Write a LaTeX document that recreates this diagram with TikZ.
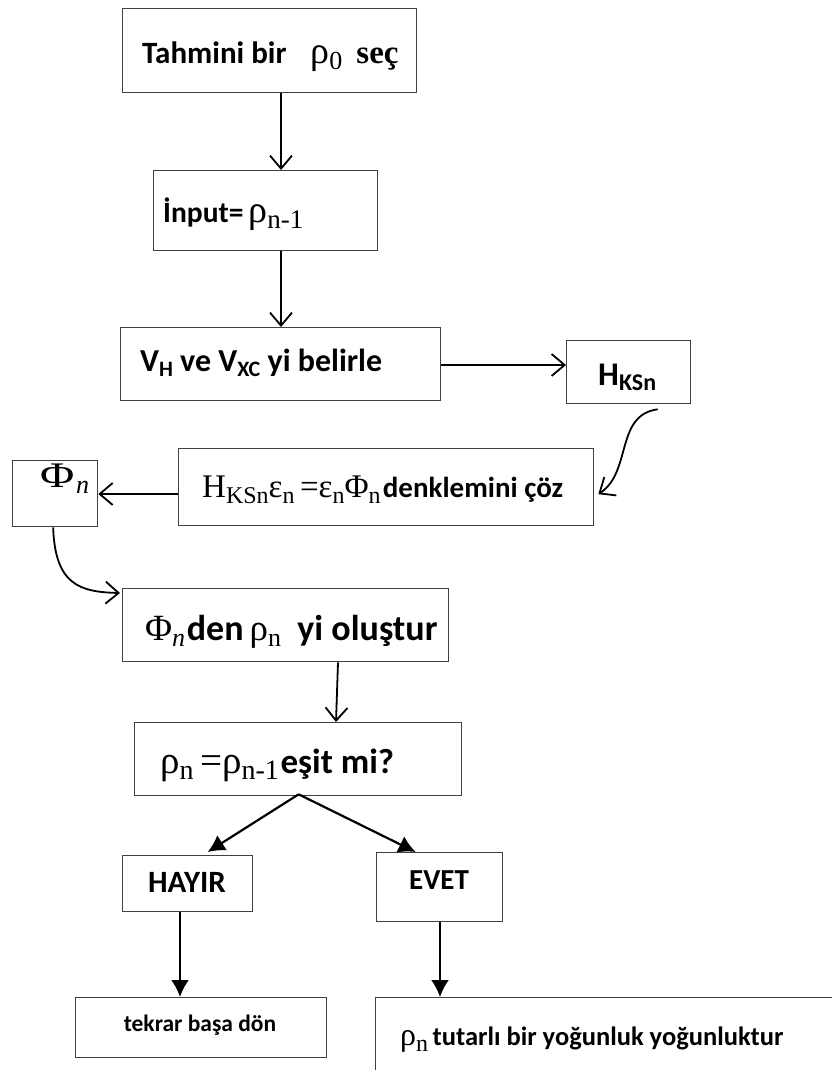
\documentclass[tikz,border=0pt]{standalone}
\usepackage{fontspec}
\setmainfont{Carlito}
\newfontfamily\tms{Liberation Serif}
\usetikzlibrary{arrows.meta,calc}
\newcommand\F[1]{\fontsize{#1}{#1}\selectfont\bfseries}
\newcommand\G[2][34]{{\fontsize{#1}{#1}\selectfont\tms\mdseries #2}}
\newcommand\gs[2][24]{\raisebox{-6pt}{\fontsize{#1}{#1}\selectfont\tms\mdseries #2}}
\newcommand\cs[2][22]{\raisebox{-5pt}{\fontsize{#1}{#1}\selectfont\bfseries #2}}
\begin{document}
\begin{tikzpicture}[x=1pt,y=-1pt,
  box/.style={draw=black!75, line width=1.3pt, anchor=north west, inner sep=0pt},
  txt/.style={inner sep=0pt, anchor=center},
  oarr/.style={line width=1.8pt, -{Straight Barb[length=13pt,width=22pt,line width=1.8pt]}},
  farr/.style={line width=2.2pt, -{Latex[length=17pt,width=18pt]}}]
\useasboundingbox (0,0) rectangle (832,1070);
\begin{scope}
\clip (0,0) rectangle (832,1070);
% boxes
\node[box, minimum width=294, minimum height=84] (b1) at (122,8) {};
\node[box, minimum width=224, minimum height=80] (b2) at (153,170) {};
\node[box, minimum width=320, minimum height=73] (b3) at (120,327) {};
\node[box, minimum width=124, minimum height=63] (hk) at (566,340) {};
\node[box, minimum width=415, minimum height=77] (b4) at (178,448) {};
\node[box, minimum width=85, minimum height=66] (phi) at (12,460) {};
\node[box, minimum width=326, minimum height=73] (b5) at (122,588) {};
\node[box, minimum width=327, minimum height=73] (b6) at (134,722) {};
\node[box, minimum width=130, minimum height=56] (hay) at (122,855) {};
\node[box, minimum width=126, minimum height=69] (evt) at (376,852) {};
\node[box, minimum width=251, minimum height=60] (tek) at (75,997) {};
\node[box, minimum width=480, minimum height=100] (fin) at (375,997) {};
% texts
\node[txt, anchor=base west] at (142,64) {\F{31}Tahmini bir\hspace{24pt}\G[38]{ρ}\gs[26]{0}\hspace{14pt}{\tms\fontsize{33}{33}\selectfont\bfseries seç}};
\node[txt, anchor=base west] at (163,222) {\F{29.5}İnput=\,\G[38]{ρ}\gs[27]{n-1}};
\node[txt, anchor=base west] at (140,371) {\F{32}V\cs{H} ve V\cs{XC} yi belirle};
\node[txt, anchor=base west] at (598,385) {\F{33}H\cs[24]{KSn}};
\node[txt, anchor=base west] at (202,497) {\G[33]{H}\gs{KSn}\G[33]{ε}\gs{n}\G[33]{\,=ε}\gs{n}\G[33]{Φ}\gs{n}\ \F{29}denklemini çöz};
\node[txt, anchor=base west] at (40,487) {\scalebox{1.3}[1]{\G[36]{Φ}}\,\gs[26]{\itshape n}};
\node[txt, anchor=base west] at (145,640) {\G[37]{Φ}\gs[26]{\itshape n}\,\F{36}den\,\G[37]{ρ}\gs[26]{n}\ \ yi oluştur};
\node[txt, anchor=base west] at (160,773) {\G[39]{ρ}\gs[28]{n}\G[39]{\,=ρ}\gs[28]{n-1}\,\F{35}eşit mi?};
\node[txt] at (187,882) {\F{31}HAYIR};
\node[txt] at (439,880) {\F{29}EVET};
\node[txt] at (200,1025) {\F{23.5}tekrar başa dön};
\node[txt, anchor=base west] at (400,1045) {\G[32]{ρ}\gs{n}\ \ \F{26.5}tutarlı bir yoğunluk yoğunluktur};
% connectors
\draw[oarr] (b1.south -| 281,0) -- (b2.north -| 281,0);
\draw[oarr] (b2.south -| 281,0) -- (b3.north -| 281,0);
\draw[oarr] (b3.east |- 0,365) -- (hk.west |- 0,365);
\draw[oarr] ($(hk.south)+(29,5)$) .. controls (615,415) and (632,472) .. ($(b4.east)+(4,7)$);
\draw[oarr] (b4.west |- 0,494) -- (phi.east |- 0,494);
\draw[oarr] ($(phi.south)+(-2,0)$) .. controls (55,585) and (80,592) .. ($(b5.north west)+(-2,5)$);
\draw[oarr] (b5.south -| 338,0) -- (b6.north -| 336,0);
\coordinate (split) at ($(b6.south)+(0.5,-2)$);
\draw[farr] (split) -- ($(hay.north)+(20,-3)$);
\draw[farr] (split) -- ($(evt.north)+(-24,0)$);
\draw[farr] (hay.south -| 180,0) -- (tek.north -| 180,0);
\draw[farr] (evt.south -| 440,0) -- (fin.north -| 440,0);
\end{scope}
\end{tikzpicture}
\end{document}
